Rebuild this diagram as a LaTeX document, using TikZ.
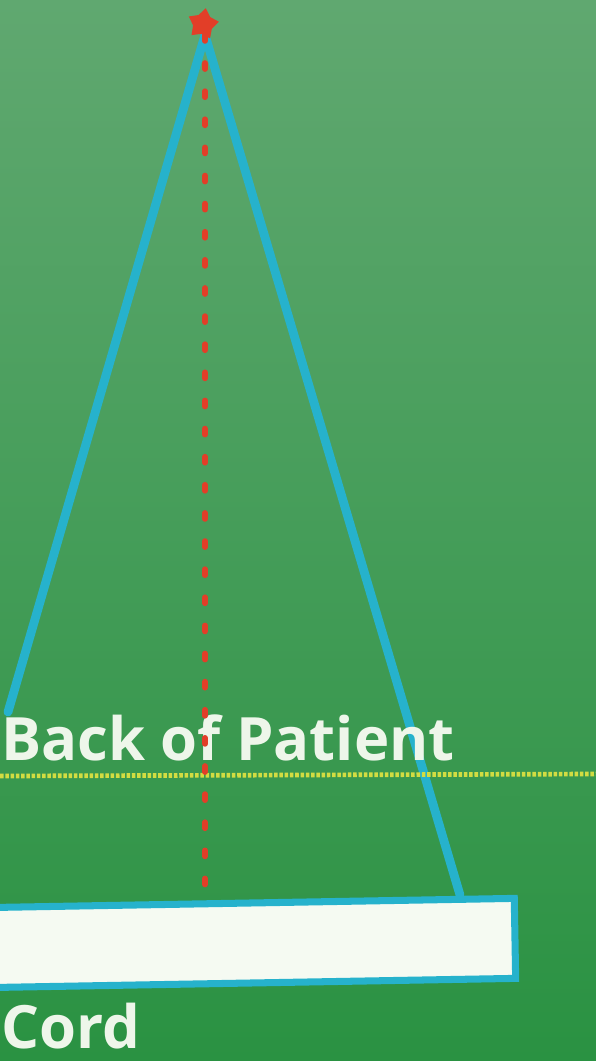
\documentclass[tikz,border=0pt]{standalone}
\usepackage{fontspec}
\setmainfont{Open Sans}
\usepackage{tikz}
\usetikzlibrary{shapes.geometric,positioning}
\usepackage{xcolor}

\definecolor{boardtop}{RGB}{96,168,112}
\definecolor{boardbot}{RGB}{42,146,66}
\definecolor{chalkblue}{RGB}{38,178,204}
\definecolor{chalkred}{RGB}{226,62,40}
\definecolor{chalkyellow}{RGB}{210,220,66}
\definecolor{chalkwhite}{RGB}{238,246,234}

\begin{document}
\begin{tikzpicture}[
    x=0.03cm, y=-0.03cm,
    chalk/.style={draw=chalkblue, line width=7.5pt, line cap=round},
    plumb/.style={draw=chalkred, line width=5pt, line cap=round, dash pattern=on 5pt off 19pt},
    skin/.style={draw=chalkyellow, line width=4pt, dash pattern=on 3pt off 1.5pt},
    lbl/.style={text=chalkwhite, font=\fontsize{51}{58}\selectfont\bfseries, inner sep=0pt, anchor=base west}
]
    \useasboundingbox (0,0) rectangle (596,1061);
    \clip (0,0) rectangle (596,1061);
    \shade[top color=boardtop, bottom color=boardbot] (0,0) rectangle (596,1061);

    \coordinate (apex) at (205,35);
    \coordinate (lfoot) at (8,712);
    \coordinate (rfoot) at (460,895);
    \coordinate (dfoot) at (205,893);
    \coordinate (sl) at (0,776);
    \coordinate (sr) at (596,774);

    \draw[chalk] (apex) -- (lfoot);
    \draw[chalk] (apex) -- (rfoot);

    \node[lbl] (back) at (1,760) {Back of Patient};
    \draw[skin] (sl) -- (sr);
    \draw[plumb] (apex) -- (dfoot);

    \node[star, star points=5, star point ratio=1.6, fill=chalkred, minimum size=32*0.03cm, inner sep=0pt, rotate=-10] (pin) at (203,24) {};

    \node[rectangle, draw=chalkblue, line width=6pt, fill=chalkwhite!60!white,
          minimum width=530*0.03cm, minimum height=80*0.03cm, rotate=1] (cord) at (250,943) {};
    \node[lbl] (cordlbl) at (1,1048) {Cord};
\end{tikzpicture}
\end{document}
